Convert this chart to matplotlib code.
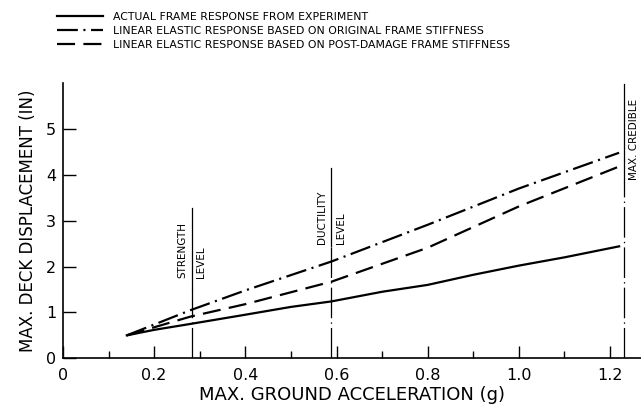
import matplotlib
matplotlib.use("Agg")
import matplotlib.pyplot as plt
from matplotlib.ticker import FixedLocator

plt.rcParams['font.family'] = ['DejaVu Sans']
plt.rcParams['lines.scale_dashes'] = False

# measured response vs ground acceleration
accel_actual = [0.14, 0.2, 0.28, 0.4, 0.5, 0.589, 0.7, 0.8, 0.9, 1.0, 1.1, 1.22]
disp_actual = [0.5, 0.62, 0.75, 0.95, 1.12, 1.24, 1.45, 1.6, 1.82, 2.02, 2.2, 2.44]

# linear elastic, original stiffness
accel_orig = [0.14, 0.28, 0.4, 0.589, 0.8, 1.0, 1.22]
disp_orig = [0.5, 1.05, 1.48, 2.11, 2.91, 3.7, 4.48]

# linear elastic, post-damage stiffness
accel_post = [0.14, 0.28, 0.4, 0.589, 0.8, 1.0, 1.22]
disp_post = [0.5, 0.91, 1.18, 1.67, 2.41, 3.31, 4.18]

# design levels (vertical markers)
level_x = [0.282, 0.589, 1.231]
level_top = [3.28, 4.15, 5.97]
level_split = [1.5, 2.45, 3.85]
level_left = ["STRENGTH", "DUCTILITY", None]
level_right = ["LEVEL", "LEVEL", "MAX. CREDIBLE"]
label_bottom = [1.76, 2.5, 3.89]

labels = ["ACTUAL FRAME RESPONSE FROM EXPERIMENT",
          "LINEAR ELASTIC RESPONSE BASED ON ORIGINAL FRAME STIFFNESS",
          "LINEAR ELASTIC RESPONSE BASED ON POST-DAMAGE FRAME STIFFNESS"]

fig = plt.figure(figsize=(6.41, 4.08), dpi=100)
ax = fig.add_axes([0.0983, 0.1218, 0.9017, 0.6748])

h1, = ax.plot(accel_actual, disp_actual, color='black', lw=1.6)
h2, = ax.plot(accel_orig, disp_orig, color='black', lw=1.6, dashes=(15, 4, 1.5, 4))
h3, = ax.plot(accel_post, disp_post, color='black', lw=1.6, dashes=(13, 6))

for x, top, split, lt, rt, lb in zip(level_x, level_top, level_split,
                                     level_left, level_right, label_bottom):
    ax.plot([x, x], [split, top], color='black', lw=0.9)
    ax.plot([x, x], [0, split], color='black', lw=0.9, dashes=(22, 3, 1, 3))
    if lt:
        ax.text(x - 0.021, lb, lt, rotation=90, ha='center', va='bottom', fontsize=7.5)
    ax.text(x + 0.021, lb, rt, rotation=90, ha='center', va='bottom', fontsize=7.5)

ax.set_xlim(0, 1.268)
ax.set_ylim(0, 6)
for s in ['top', 'right']:
    ax.spines[s].set_visible(False)
ax.spines['left'].set_linewidth(1.2)
ax.spines['bottom'].set_linewidth(1.2)

ax.xaxis.set_major_locator(FixedLocator([0, 0.2, 0.4, 0.6, 0.8, 1.0, 1.2]))
ax.xaxis.set_minor_locator(FixedLocator([0.1, 0.3, 0.5, 0.7, 0.9, 1.1]))
ax.set_xticklabels(["0", "0.2", "0.4", "0.6", "0.8", "1.0", "1.2"])
ax.yaxis.set_major_locator(FixedLocator([0, 1, 2, 3, 4, 5]))
ax.tick_params(which='major', direction='in', length=9, width=1, labelsize=11.5)
ax.tick_params(which='minor', direction='in', length=5, width=1)
ax.tick_params(axis='x', pad=7)
ax.tick_params(axis='y', pad=5)

ax.set_xlabel("MAX. GROUND ACCELERATION (g)", fontsize=13, labelpad=2)
ax.set_ylabel("MAX. DECK DISPLACEMENT (IN)", fontsize=12, labelpad=6)

fig.legend([h1, h2, h3], labels, loc='upper left',
           bbox_to_anchor=(0.082, 0.981), frameon=False, fontsize=7.8,
           handlelength=4.25, handletextpad=0.9, labelspacing=0.35,
           borderaxespad=0)

fig.savefig("out.png", dpi=100)
